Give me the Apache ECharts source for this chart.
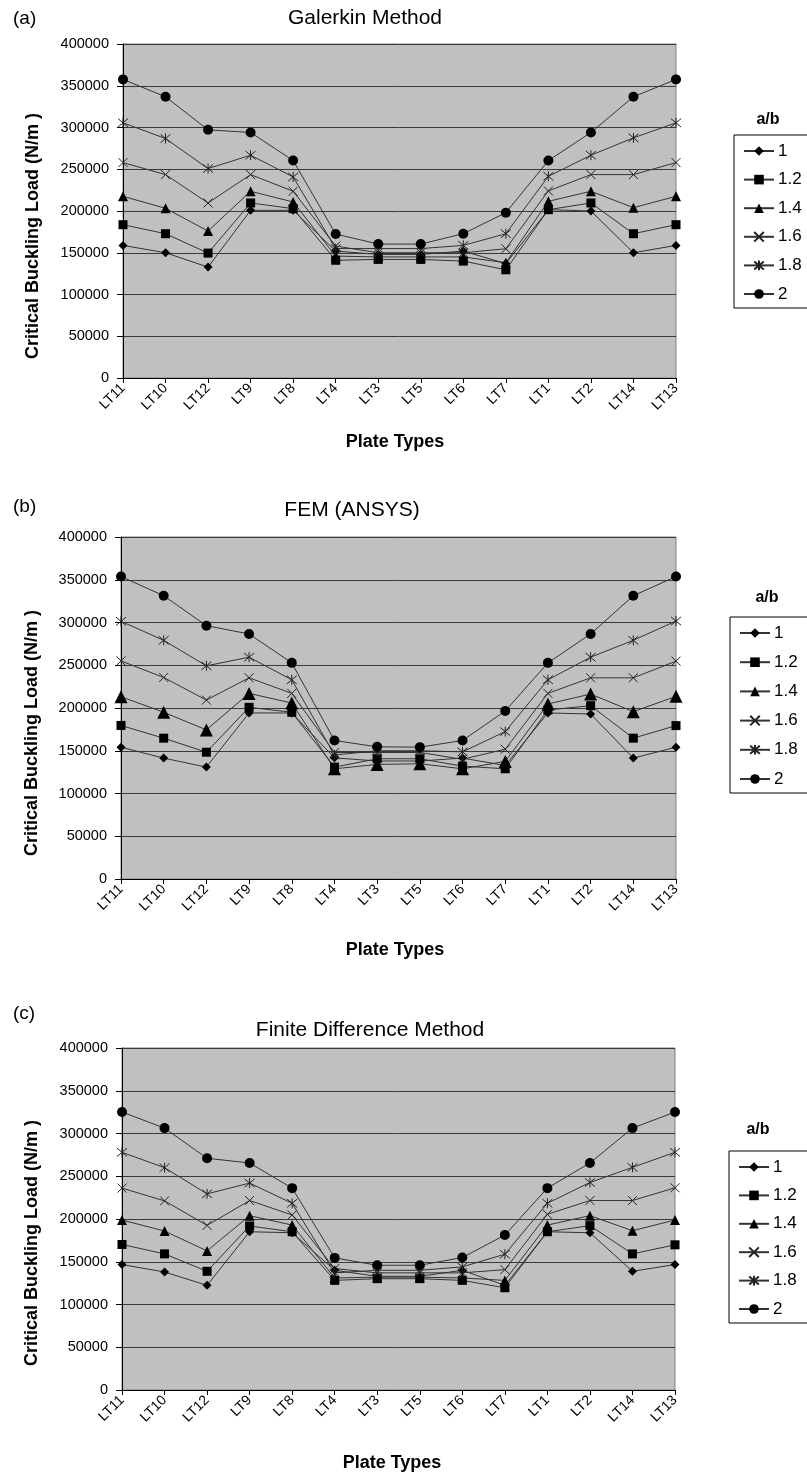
<!DOCTYPE html>
<html>
<head>
<meta charset="utf-8">
<script src="https://cdn.jsdelivr.net/npm/echarts@6/dist/echarts.min.js"></script>
<style>
html,body{margin:0;padding:0;background:#fff;}
#chart{width:807px;height:1475px;}
</style>
</head>
<body>
<div id="chart"></div>
<script>
// ---------- DATA ----------
const plateTypes = ['LT11','LT10','LT12','LT9','LT8','LT4','LT3','LT5','LT6','LT7','LT1','LT2','LT14','LT13'];
const ratioNames = ['1','1.2','1.4','1.6','1.8','2'];
const yTicksMax = 400000;
const yTickStep = 50000;
const panelLabels = ['(a)','(b)','(c)'];
const panelTitles = ['Galerkin Method','FEM (ANSYS)','Finite Difference Method'];
const xAxisTitle = 'Plate Types';
const yAxisTitle = 'Critical Buckling Load (N/m )';
const legendTitle = 'a/b';

// (a) Galerkin Method
const gal_1   = [158800,150000,132800,200800,200800,152000,148000,148000,152000,137000,201600,200000,150000,158800];
const gal_1_2 = [183600,172800,149600,209600,202800,141000,142000,142000,140000,129600,201600,209600,172800,183600];
const gal_1_4 = [217600,203200,176000,223600,210800,146000,145000,145000,145000,138000,211600,223600,204000,217600];
const gal_1_6 = [258000,243600,209600,243600,223600,158000,150000,150000,150000,154800,224000,243600,243600,258000];
const gal_1_8 = [305600,286800,250800,266800,240800,155000,155000,155000,158800,172800,241600,266800,287600,305600];
const gal_2   = [357600,336800,297200,294000,260400,172400,160400,160400,172800,198000,260400,294000,336800,357600];

// (b) FEM (ANSYS)
const fem_1   = [154200,141400,130900,194200,194200,141700,138000,138000,141400,132800,194200,193000,141400,154200];
const fem_1_2 = [179600,164700,148300,200800,195000,130900,140600,140600,132000,128900,197700,202700,164700,179400];
const fem_1_4 = [213200,195000,174400,217100,205800,128900,134000,134800,128900,137500,204700,216300,195700,213600];
const fem_1_6 = [255100,235700,209300,235300,217100,148000,148000,148000,140000,151800,217100,235300,235300,254800];
const fem_1_8 = [301400,279200,249300,259400,233000,145000,150000,150000,148700,172400,233000,259400,279200,301700];
const fem_2   = [353800,331300,296300,286600,252800,162000,154600,154200,162000,196500,252800,286600,331300,353800];

// (c) Finite Difference Method
const fdm_1   = [146700,138000,122400,185100,183900,140000,133000,133000,140000,122400,185100,183900,138800,146700];
const fdm_1_2 = [170200,159200,138800,191800,185100,128200,130200,130200,128200,119600,185100,192200,159200,169800];
const fdm_1_4 = [198800,185900,162700,203900,192900,131000,132000,132000,131000,128200,192900,203900,186300,198800];
const fdm_1_6 = [236100,221200,192500,221600,204700,142000,137000,137000,137000,140800,205500,221600,221600,236500];
const fdm_1_8 = [278000,260000,229400,242000,218400,137000,140000,140000,144000,158800,218400,242700,260400,278000];
const fdm_2   = [325100,306300,271000,265500,236100,154500,145900,145900,154900,181200,236100,265500,306300,325100];

const panelData = [
  [gal_1, gal_1_2, gal_1_4, gal_1_6, gal_1_8, gal_2],
  [fem_1, fem_1_2, fem_1_4, fem_1_6, fem_1_8, fem_2],
  [fdm_1, fdm_1_2, fdm_1_4, fdm_1_6, fdm_1_8, fdm_2]
];

// ---------- LAYOUT / STYLE ----------
const FONT = '"Liberation Sans", Arial, sans-serif';
const grids = [
  {left:123, top:44,   width:553, height:334},
  {left:121, top:537,  width:555, height:342},
  {left:122, top:1048, width:553, height:342}
];
const labelPos = [ {x:13,y:20}, {x:13,y:508}, {x:13,y:1015} ];
const titlePos = [ {x:365,y:18}, {x:352,y:510}, {x:370,y:1030} ];
const yNamePos = [ {x:33,y:236}, {x:32,y:733}, {x:32,y:1243} ];
const xNamePos = [ {x:395,y:442}, {x:395,y:950}, {x:392,y:1463} ];
const legendBox = [
  {left:734, top:135, abx:768, aby:120, gap:8.6},
  {left:730, top:617, abx:767, aby:598, gap:9.2},
  {left:729, top:1151, abx:758, aby:1130, gap:8.4}
];

const XPATH = 'path://M0,0L10,10M0,10L10,0';
const STARPATH = 'path://M0,0L10,10M0,10L10,0M5,-1L5,11';
const symbolDefs = [
  {symbol:'diamond', size:9,  fill:'#000', bw:0},
  {symbol:'rect',    size:9,  fill:'#000', bw:0},
  {symbol:'triangle',size:10, fill:'#000', bw:0},
  {symbol:XPATH,     size:9,  fill:'none', bw:1},
  {symbol:STARPATH,  size:10, fill:'none', bw:1},
  {symbol:'circle',  size:10, fill:'#000', bw:0}
];

const option = {
  animation:false,
  backgroundColor:'#fff',
  textStyle:{fontFamily:FONT},
  grid:[], xAxis:[], yAxis:[], series:[], legend:[], graphic:[]
};

for (let p = 0; p < 3; p++) {
  option.grid.push(Object.assign({
    show:true, backgroundColor:'#c0c0c0', borderColor:'#808080', borderWidth:1,
    containLabel:false
  }, grids[p]));
  option.xAxis.push({
    type:'category', gridIndex:p, data:plateTypes, boundaryGap:false,
    axisLine:{show:true, onZero:false, lineStyle:{color:'#000', width:1}},
    axisTick:{show:true, length:5, alignWithLabel:true, lineStyle:{color:'#000'}},
    axisLabel:{rotate:45, interval:0, fontSize:14, color:'#000', margin:8, fontFamily:FONT},
    splitLine:{show:false}
  });
  option.yAxis.push({
    type:'value', gridIndex:p, min:0, max:yTicksMax, interval:yTickStep,
    axisLine:{show:true, lineStyle:{color:'#000', width:1}},
    axisTick:{show:true, length:6, lineStyle:{color:'#000'}},
    axisLabel:{fontSize:14.5, color:'#000', margin:14, fontFamily:FONT, formatter:v => String(v)},
    splitLine:{show:true, lineStyle:{color:'#3a3a3a', width:1}}
  });
  const pd = panelData[p];
  for (let s = 0; s < ratioNames.length; s++) {
    const sd = symbolDefs[s];
    let size = sd.size;
    if (p === 1 && s === 2) size = 13;
    option.series.push({
      type:'line', name:ratioNames[s], xAxisIndex:p, yAxisIndex:p,
      data:pd[s], symbol:sd.symbol, symbolSize:size, showAllSymbol:true,
      lineStyle:{color:'#333', width:1},
      itemStyle:{color:sd.fill, borderColor:'#222', borderWidth:sd.bw},
      emphasis:{disabled:true}
    });
  }
  const lb = legendBox[p];
  option.legend.push({
    data:ratioNames, orient:'vertical', left:lb.left, top:lb.top,
    itemWidth:30, itemHeight:12, itemGap:lb.gap,
    padding:[6, 45, 4, 9],
    borderColor:'#000', borderWidth:1, backgroundColor:'#fff',
    selectedMode:false,
    textStyle:{fontSize:17, lineHeight:20, color:'#000', fontFamily:FONT, padding:[0,0,0,-1]}
  });
  option.graphic.push(
    {type:'text', left:labelPos[p].x, top:labelPos[p].y - 11,
     style:{text:panelLabels[p], font:'19px ' + FONT, fill:'#000'}},
    {type:'text', x:titlePos[p].x, y:titlePos[p].y,
     style:{text:panelTitles[p], font:'21px ' + FONT, fill:'#000', align:'center', verticalAlign:'middle'}},
    {type:'text', x:yNamePos[p].x, y:yNamePos[p].y, rotation:Math.PI/2,
     style:{text:yAxisTitle, font:'bold 18px ' + FONT, fill:'#000', align:'center', verticalAlign:'middle'}},
    {type:'text', x:xNamePos[p].x, y:xNamePos[p].y,
     style:{text:xAxisTitle, font:'bold 18px ' + FONT, fill:'#000', align:'center', verticalAlign:'middle'}},
    {type:'text', x:lb.abx, y:lb.aby,
     style:{text:legendTitle, font:'bold 16px ' + FONT, fill:'#000', align:'center', verticalAlign:'middle'}}
  );
}

const chart = echarts.init(document.getElementById('chart'), null, {renderer:'canvas'});
chart.setOption(option);
</script>
</body>
</html>
